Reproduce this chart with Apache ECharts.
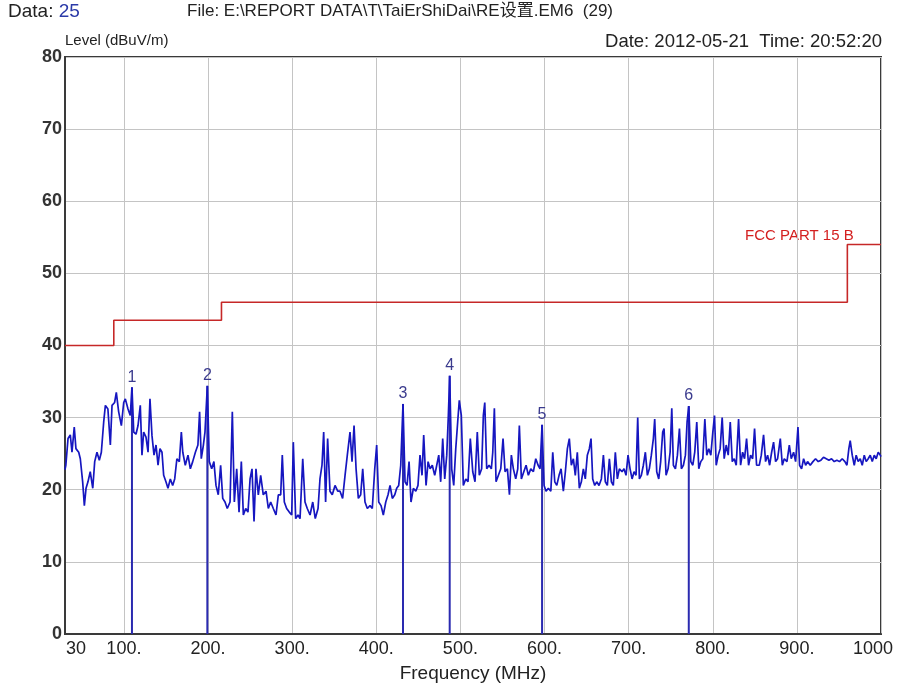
<!DOCTYPE html>
<html>
<head>
<meta charset="utf-8">
<script src="https://cdn.jsdelivr.net/npm/echarts@6/dist/echarts.min.js"></script>
<style>
html,body{margin:0;padding:0;background:#fff;}
#chart{width:901px;height:688px;}
</style>
</head>
<body>
<div id="chart"></div>
<script>
// ---- data ----
const traceFreq = [30,31,33.6,36.3,38.3,41,43,46.3,48.2,51,53,55,57.3,60,63,65.3,68,70.8,73.2,76,78,81,83.9,85.9,89,91,93.8,97,99.8,101.7,104.9,107.6,109.6,111.7,114.4,116.8,119.5,121.5,123.5,126.3,128.7,131,133.4,135.8,138.2,140.6,142.9,145.3,147.3,150,152.4,155.2,158,160.4,163,165.9,168.3,170,173,176.2,179,181.8,185,188,190,192,194.5,196.4,199.2,201.5,204.4,207,209.5,212.2,215,217.5,220.2,222.9,226.2,228.9,231.3,234.1,236.9,239.6,242,244.8,247.5,250,252.3,254.7,257,259.8,262.6,265.7,269,271.7,274.5,277.6,280.8,283.6,286.4,288.3,290.7,293.5,296.6,299.5,301.4,304.2,307,309.4,312.6,315.3,318,321.3,324.5,327.5,330.8,333.1,335.5,337.5,339.8,342.2,345,347.7,351,354.2,356.9,360,362.9,365.6,368.8,371.2,373.6,376,378.7,381.5,383.9,386.6,389.4,392.6,395.3,398.2,400.5,402.9,405.7,408.4,411.3,414,416.4,419.1,422,424.3,426.7,429.1,431.8,434.2,436.6,439,441.3,444.1,447,449.6,452,454.4,456.4,459.2,461.6,464,466.6,469.5,471.9,474.3,476.6,479,481.4,483.8,485.7,487.3,489.7,492.1,494.5,496.8,498.7,501.1,503.5,506.4,509.1,511.8,514.7,517.4,520.1,522.5,525.3,527.3,529,531.3,534.1,536.8,538.5,540.4,542.4,545.2,548,550.7,553.1,555.9,558.3,560.6,563,565.8,568.2,570.1,572.5,575.4,578.1,580.8,583.7,586.8,589.6,592.4,594.7,597.1,599.5,601.8,604.6,607.5,609.8,612.2,614.6,617.3,619.7,622.4,624.8,627.2,629.5,631.9,634.3,636.6,639,641.4,643.8,646.2,648.5,650.9,653.3,655.3,657.3,659.7,662.1,664.8,667.6,670,672.3,674.7,677.1,679.5,681.8,684.2,686.6,689,692.2,694.5,696.9,699.3,701.7,704.1,706.5,708.8,710.8,712.8,715.1,717.5,719.9,722.3,724.6,727,729.4,731,733.4,735.8,738.1,740.5,742.1,744.5,746.9,749.3,751.3,753.2,755.6,758,760.4,762.7,765.1,767.5,769.5,771.5,773.9,776.3,778.6,781,783.4,785.8,788.2,790.6,792.9,795.3,797.7,800.1,802.1,804.1,806.5,808.8,811.2,813.6,816,818.4,820.8,823.2,825.5,827.9,830.7,833.1,835.5,837.8,840.2,842.6,845,847.4,849.7,852.1,855.3,857.7,860.4,862.8,865.2,867.6,870,872.3,874.7,877.1,880.3,882.7,885,888.2,891,893.3,896.1,898.5,901.3,903.2,905.6,908,910.4,912.7,915.9,919.1,922.2,925.4,928.6,931.7,934.9,938.1,941.2,944.4,947.6,950.7,953.9,957.1,959.5,961.8,963.4,965.8,968.2,970.5,972.9,975.3,977.7,980.1,982.4,984.8,987.2,989.6,992,994.3,996.7,999.1,1000];
const traceLevel = [22.8,23.4,27.1,27.6,25.2,28.7,25.7,25.2,24.3,21.1,17.8,20.2,21.1,22.5,20.2,23.9,25.2,24.1,25.2,29.4,31.7,31.2,26.2,31.7,32.1,33.5,30.8,28.9,32.1,32.6,31.2,30.3,34.2,28.0,27.7,28.9,31.7,24.8,28.0,27.3,25.2,32.6,27.5,24.8,26.2,23.4,25.7,25.2,22.0,21.1,20.2,21.5,20.6,21.5,24.3,23.9,28.0,25.2,23.4,24.8,22.9,23.9,25.2,26.2,30.8,24.3,26.2,28.0,34.4,23.9,22.9,23.9,20.6,19.3,23.4,18.8,18.3,17.4,18.3,30.8,18.3,22.9,16.9,23.9,16.5,17.4,16.9,21.5,22.9,15.6,22.9,19.3,22.0,19.3,19.8,17.4,18.3,17.4,16.5,19.3,19.3,24.8,18.3,17.4,16.9,16.5,26.6,16.0,16.5,16.0,24.3,18.3,17.4,16.5,18.3,16.0,17.4,21.5,23.4,28.0,18.3,27.1,19.8,19.3,20.6,19.8,19.8,18.8,22.0,24.8,28.0,23.9,28.9,22.9,18.8,19.3,22.9,18.3,17.4,17.8,17.4,22.9,26.2,18.3,17.8,16.5,18.3,19.3,20.6,18.8,19.3,20.2,20.6,23.4,31.9,21.1,20.6,23.9,18.3,20.2,19.8,20.6,24.8,22.0,27.6,20.6,23.9,22.9,23.4,22.0,23.4,24.8,21.1,27.1,21.5,24.8,30.3,35.8,22.9,20.6,25.7,29.4,32.4,30.3,20.6,21.5,21.1,27.1,22.5,21.1,28.0,22.0,22.9,30.3,32.1,22.9,23.4,22.9,25.2,31.3,21.1,22.0,22.9,27.1,22.5,22.9,19.3,24.8,22.9,21.5,22.9,28.9,21.5,22.5,23.4,22.0,22.9,22.5,24.3,23.4,22.9,29.0,20.6,19.8,20.2,19.8,25.2,21.1,20.6,22.0,22.9,19.8,22.5,25.7,27.1,23.4,24.3,22.0,25.2,20.2,21.1,22.9,21.5,24.8,25.7,27.1,21.5,20.6,21.1,20.6,21.5,24.8,21.1,20.6,24.3,21.1,20.6,25.2,21.5,22.9,22.5,22.9,22.0,24.8,22.9,21.5,22.5,22.0,30.0,21.5,22.0,23.4,25.2,22.0,22.9,24.8,27.1,29.8,22.5,21.5,23.9,28.0,28.5,22.0,22.9,25.2,31.3,23.4,22.9,24.8,28.5,22.9,23.4,24.8,29.4,31.6,23.9,23.4,25.2,29.4,22.9,23.9,24.3,29.8,24.8,25.7,24.8,28.0,30.3,23.4,24.8,25.7,30.0,24.3,26.2,24.8,29.4,23.9,24.3,23.4,29.8,23.4,25.2,24.3,27.1,23.4,24.8,24.3,28.5,23.4,23.4,24.8,27.6,23.9,24.8,23.4,25.2,26.6,23.9,24.3,27.1,23.4,24.3,23.9,26.2,24.3,25.2,23.9,28.7,23.4,22.9,24.3,23.4,23.9,23.4,23.9,24.3,23.9,24.1,24.5,24.3,24.1,24.3,23.9,24.1,23.9,24.3,23.9,23.4,25.7,26.8,24.8,23.4,24.8,23.9,24.3,23.4,24.8,23.9,24.3,24.8,23.9,24.8,24.3,25.2,24.8,24.6];

const limitFreq  = [30, 88, 88, 216, 216, 960, 960, 1000];
const limitLevel = [40, 40, 43.5, 43.5, 46, 46, 54, 54];

const markerFreq  = [109.6, 199.2, 431.8, 487.3, 597.1, 771.5];
const markerLevel = [34.2, 34.4, 31.9, 35.8, 29.0, 31.6];
const markerNames = ['1', '2', '3', '4', '5', '6'];

const xTickValues = [30, 100, 200, 300, 400, 500, 600, 700, 800, 900, 1000];
const yTicks = { min: 0, max: 80, step: 10 };

const headerData = 'Data: ';
const headerDataNo = '25';
const headerFile = 'File: E:\\REPORT DATA\\T\\TaiErShiDai\\RE设置.EM6  (29)';
const headerDate = 'Date: 2012-05-21  Time: 20:52:20';
const yName = 'Level (dBuV/m)';
const xName = 'Frequency (MHz)';
const limitName = 'FCC PART 15 B';

// ---- chart ----
const FONT = '"Liberation Sans", Arial, "Noto Sans CJK SC", sans-serif';
const zip = (a, b) => a.map((v, i) => [v, b[i]]);
const xMin = xTickValues[0], xMax = xTickValues[xTickValues.length - 1];

const chart = echarts.init(document.getElementById('chart'), null, { renderer: 'canvas' });
chart.setOption({
  animation: false,
  backgroundColor: '#ffffff',
  textStyle: { fontFamily: FONT },
  grid: {
    left: 65, right: 20, top: 57, bottom: 52,
    show: true, borderColor: '#3a3a3a', borderWidth: 2, backgroundColor: 'transparent'
  },
  xAxis: {
    type: 'value', min: xMin, max: xMax,
    name: xName, nameLocation: 'middle', nameGap: 30,
    nameTextStyle: { fontSize: 19, color: '#222', fontFamily: FONT },
    axisLine: { show: true, lineStyle: { color: '#3a3a3a', width: 2 } },
    axisTick: { show: false, customValues: xTickValues },
    splitLine: { show: true, lineStyle: { color: '#c4c4c4', width: 1 } },
    axisLabel: {
      customValues: xTickValues,
      fontSize: 18, color: '#222', margin: 6, fontFamily: FONT,
      formatter: function (v) {
        if (v === xMin) return '{a|' + v + '}';
        if (v === xMax) return '{b|' + v + '}';
        return v + '.';
      },
      rich: {
        a: { fontSize: 18, color: '#222', padding: [0, 0, 0, 22], fontFamily: FONT },
        b: { fontSize: 18, color: '#222', padding: [0, 16, 0, 0], fontFamily: FONT }
      }
    }
  },
  yAxis: {
    type: 'value', min: yTicks.min, max: yTicks.max, interval: yTicks.step,
    name: yName, nameLocation: 'end', nameGap: 3,
    nameTextStyle: { fontSize: 15, color: '#222', align: 'left', fontFamily: FONT },
    axisLine: { show: true, lineStyle: { color: '#3a3a3a', width: 2 } },
    axisTick: { show: false },
    splitLine: { show: true, lineStyle: { color: '#c4c4c4', width: 1 } },
    axisLabel: { fontSize: 18, color: '#333', fontWeight: 'bold', margin: 3, fontFamily: FONT }
  },
  graphic: [
    {
      type: 'text', left: 8, top: 2,
      style: {
        text: '{k|' + headerData + '}{v|' + headerDataNo + '}',
        rich: {
          k: { fontSize: 19, fill: '#222', fontFamily: FONT },
          v: { fontSize: 19, fill: '#2b3aa8', fontFamily: FONT }
        }
      }
    },
    {
      type: 'text', left: 187, top: 3,
      style: { text: headerFile, fontSize: 17, fill: '#222', fontFamily: FONT }
    },
    {
      type: 'text', right: 19, top: 33,
      style: { text: headerDate, fontSize: 18.5, fill: '#222', fontFamily: FONT }
    },
    {
      type: 'text', left: 745, top: 228,
      style: { text: limitName, fontSize: 15, fill: '#d42020', fontFamily: FONT }
    }
  ],
  series: [
    {
      name: 'limit', type: 'line', data: zip(limitFreq, limitLevel),
      showSymbol: false, silent: true,
      lineStyle: { color: '#c62828', width: 1.6 }, z: 3
    },
    {
      name: 'markers', type: 'bar', data: zip(markerFreq, markerLevel),
      barWidth: 2, silent: true,
      itemStyle: { color: '#2a2ab0' },
      label: {
        show: true, position: 'top', distance: 2,
        formatter: function (p) { return markerNames[p.dataIndex]; },
        fontSize: 16, color: '#3b3b8e', fontFamily: FONT
      },
      z: 4
    },
    {
      name: 'trace', type: 'line', data: zip(traceFreq, traceLevel),
      showSymbol: false, silent: true,
      lineStyle: { color: '#1616c0', width: 1.7 }, z: 5
    }
  ]
});
</script>
</body>
</html>
